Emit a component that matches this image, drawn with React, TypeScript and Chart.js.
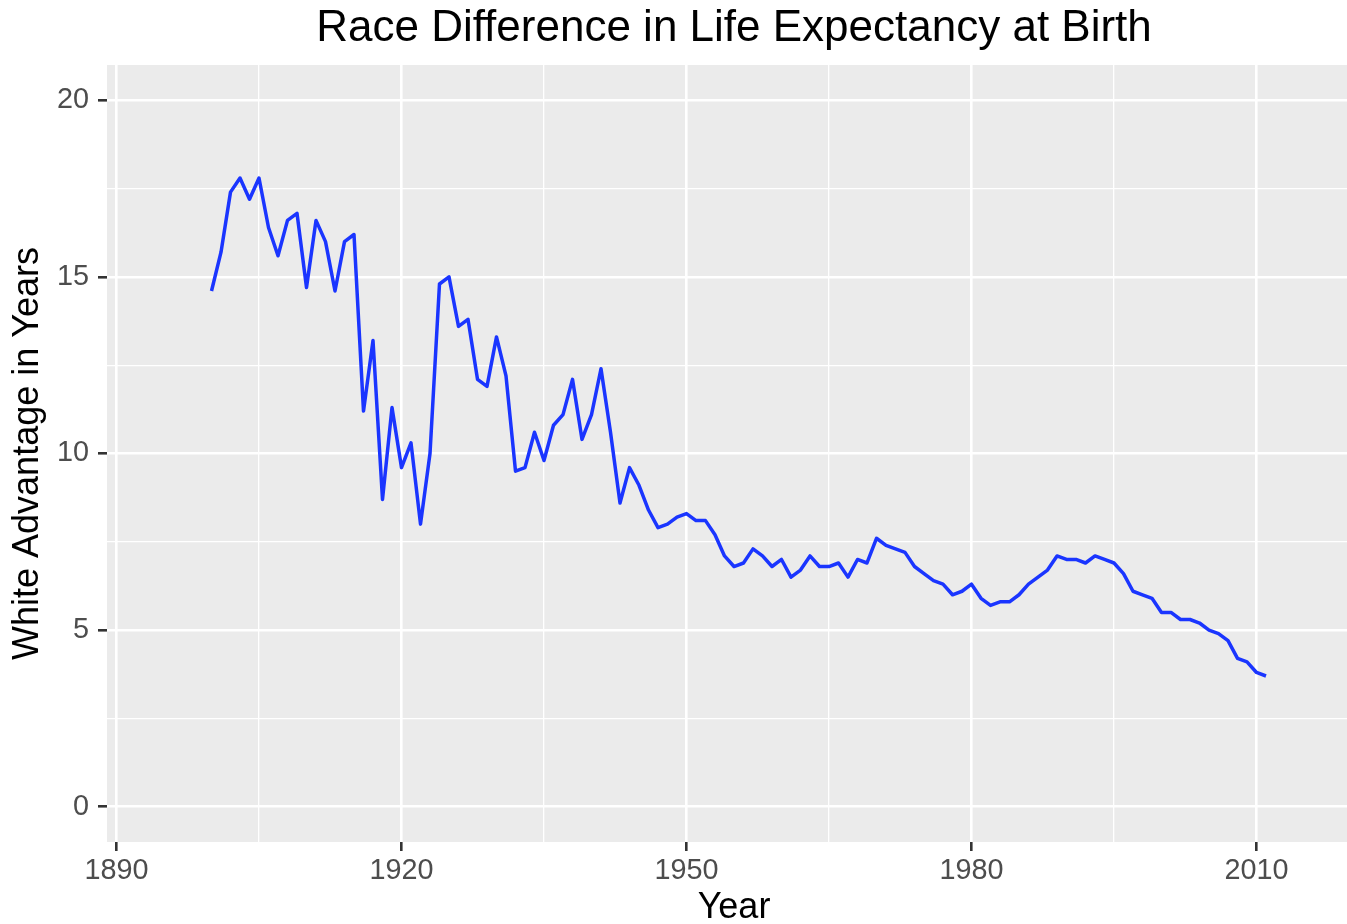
import React, { useEffect, useRef } from "react";
import { Chart, registerables } from "chart.js";

Chart.register(...registerables);

const years = [
  1900, 1901, 1902, 1903, 1904, 1905, 1906, 1907, 1908, 1909,
  1910, 1911, 1912, 1913, 1914, 1915, 1916, 1917, 1918, 1919,
  1920, 1921, 1922, 1923, 1924, 1925, 1926, 1927, 1928, 1929,
  1930, 1931, 1932, 1933, 1934, 1935, 1936, 1937, 1938, 1939,
  1940, 1941, 1942, 1943, 1944, 1945, 1946, 1947, 1948, 1949,
  1950, 1951, 1952, 1953, 1954, 1955, 1956, 1957, 1958, 1959,
  1960, 1961, 1962, 1963, 1964, 1965, 1966, 1967, 1968, 1969,
  1970, 1971, 1972, 1973, 1974, 1975, 1976, 1977, 1978, 1979,
  1980, 1981, 1982, 1983, 1984, 1985, 1986, 1987, 1988, 1989,
  1990, 1991, 1992, 1993, 1994, 1995, 1996, 1997, 1998, 1999,
  2000, 2001, 2002, 2003, 2004, 2005, 2006, 2007, 2008, 2009,
  2010, 2011,
];

const whiteAdvantage = [
  14.6, 15.7, 17.4, 17.8, 17.2, 17.8, 16.4, 15.6, 16.6, 16.8,
  14.7, 16.6, 16.0, 14.6, 16.0, 16.2, 11.2, 13.2, 8.7, 11.3,
  9.6, 10.3, 8.0, 10.0, 14.8, 15.0, 13.6, 13.8, 12.1, 11.9,
  13.3, 12.2, 9.5, 9.6, 10.6, 9.8, 10.8, 11.1, 12.1, 10.4,
  11.1, 12.4, 10.6, 8.6, 9.6, 9.1, 8.4, 7.9, 8.0, 8.2,
  8.3, 8.1, 8.1, 7.7, 7.1, 6.8, 6.9, 7.3, 7.1, 6.8,
  7.0, 6.5, 6.7, 7.1, 6.8, 6.8, 6.9, 6.5, 7.0, 6.9,
  7.6, 7.4, 7.3, 7.2, 6.8, 6.6, 6.4, 6.3, 6.0, 6.1,
  6.3, 5.9, 5.7, 5.8, 5.8, 6.0, 6.3, 6.5, 6.7, 7.1,
  7.0, 7.0, 6.9, 7.1, 7.0, 6.9, 6.6, 6.1, 6.0, 5.9,
  5.5, 5.5, 5.3, 5.3, 5.2, 5.0, 4.9, 4.7, 4.2, 4.1,
  3.8, 3.7,
];

const xMajorTicks = [1890, 1920, 1950, 1980, 2010];
const xMinorTicks = [1905, 1935, 1965, 1995];
const yMajorTicks = [0, 5, 10, 15, 20];
const yMinorTicks = [2.5, 7.5, 12.5, 17.5];

const titleText = "Race Difference in Life Expectancy at Birth";
const xTitle = "Year";
const yTitle = "White Advantage in Years";

const FONT = "'Liberation Sans', Arial, Helvetica, sans-serif";
const MAJOR_W = 2.6;
const MINOR_W = 1.3;

const panelBackground = {
  id: "panelBackground",
  beforeDraw(chart: any) {
    const { ctx, chartArea } = chart;
    ctx.save();
    ctx.fillStyle = "#EBEBEB";
    ctx.fillRect(chartArea.left, chartArea.top, chartArea.right - chartArea.left, chartArea.bottom - chartArea.top);
    ctx.restore();
  },
};

function makeTicks(major: number[], minor: number[]) {
  return (axis: any) => {
    axis.ticks = [...major, ...minor].sort((a, b) => a - b).map((v) => ({ value: v }));
  };
}

function gridFor(major: number[]) {
  const isMajor = (ctx: any) => ctx.tick && major.includes(ctx.tick.value);
  return {
    color: "#FFFFFF",
    lineWidth: (ctx: any) => (isMajor(ctx) ? MAJOR_W : MINOR_W),
    tickColor: (ctx: any) => (isMajor(ctx) ? "#333333" : "rgba(0,0,0,0)"),
    tickWidth: (ctx: any) => (isMajor(ctx) ? MAJOR_W : 0),
    tickLength: 9,
    drawTicks: true,
  };
}

export default function App() {
  const canvasRef = useRef<HTMLCanvasElement | null>(null);

  useEffect(() => {
    if (!canvasRef.current) return;
    const chart = new Chart(canvasRef.current, {
      type: "line",
      data: {
        datasets: [
          {
            data: years.map((yr, i) => ({ x: yr, y: whiteAdvantage[i] })),
            borderColor: "#1a35ff",
            borderWidth: 3.5,
            pointRadius: 0,
            tension: 0,
            fill: false,
            borderJoinStyle: "round",
          },
        ],
      },
      options: {
        responsive: false,
        animation: false,
        devicePixelRatio: 1,
        layout: { padding: 0 },
        plugins: {
          legend: { display: false },
          tooltip: { enabled: false },
          title: {
            display: true,
            text: titleText,
            fullSize: false,
            color: "#000000",
            font: { family: FONT, size: 44, weight: "normal", lineHeight: 1 },
            padding: { top: 7, bottom: 14 },
          },
        },
        scales: {
          x: {
            type: "linear",
            min: 1889,
            max: 2021,
            afterBuildTicks: makeTicks(xMajorTicks, xMinorTicks),
            afterFit: (s: any) => {
              s.height = 82;
            },
            grid: gridFor(xMajorTicks),
            border: { display: false },
            ticks: {
              autoSkip: false,
              maxRotation: 0,
              minRotation: 0,
              padding: 6,
              color: "#4D4D4D",
              font: { family: FONT, size: 28.8, lineHeight: 1 },
              callback: (v: any) => (xMajorTicks.includes(Number(v)) ? String(v) : ""),
            },
            title: {
              display: true,
              text: xTitle,
              color: "#000000",
              font: { family: FONT, size: 36, lineHeight: 0.9 },
              padding: { top: 0, bottom: 0 },
            },
          },
          y: {
            type: "linear",
            min: -1,
            max: 21,
            afterBuildTicks: makeTicks(yMajorTicks, yMinorTicks),
            afterFit: (s: any) => {
              s.width = 107;
            },
            grid: gridFor(yMajorTicks),
            border: { display: false },
            ticks: {
              autoSkip: false,
              padding: 9,
              color: "#4D4D4D",
              font: { family: FONT, size: 28.8, lineHeight: 1 },
              callback: (v: any) => (yMajorTicks.includes(Number(v)) ? String(v) : ""),
            },
            title: {
              display: true,
              text: yTitle,
              color: "#000000",
              font: { family: FONT, size: 36, lineHeight: 1 },
              padding: { top: 10, bottom: 0 },
            },
          },
        },
      } as any,
      plugins: [panelBackground],
    });
    return () => chart.destroy();
  }, []);

  return (
    <div
      style={{
        position: "absolute",
        left: 0,
        top: 0,
        width: 1347,
        height: 924,
        overflow: "hidden",
        background: "#FFFFFF",
      }}
    >
      <canvas ref={canvasRef} width={1361} height={924} style={{ display: "block", width: 1361, height: 924 }} />
    </div>
  );
}
